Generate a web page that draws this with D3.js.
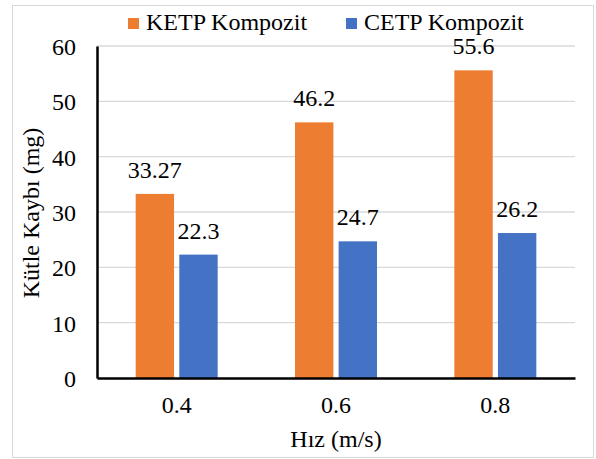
<!DOCTYPE html>
<html>
<head>
<meta charset="utf-8">
<script src="https://cdn.jsdelivr.net/npm/d3@7"></script>
</head>
<body style="margin:0">
<svg id="chart" width="596" height="459" font-family="Liberation Serif"></svg>
<script>
// Mass loss by sliding speed for the two composites
const categories = ["0.4", "0.6", "0.8"];
const seriesNames = ["KETP Kompozit", "CETP Kompozit"];
const ketpValues = [33.27, 46.2, 55.6];
const cetpValues = [22.3, 24.7, 26.2];
const yTicks = [0, 10, 20, 30, 40, 50, 60];
const colors = ["#ed7d31", "#4472c4"];

const FS = 24;
const svg = d3.select("#chart");

// outer frame
svg.append("rect")
  .attr("x", 12.5).attr("y", 5.5)
  .attr("width", 581).attr("height", 452)
  .attr("fill", "#fff").attr("stroke", "#d9d9d9").attr("stroke-width", 1);

const plot = { left: 97, right: 575, top: 46, bottom: 378 };

const x = d3.scaleBand().domain(categories).range([plot.left, plot.right]);
const xInner = d3.scaleBand().domain(seriesNames)
  .range([x.bandwidth() / 2 - 41, x.bandwidth() / 2 + 41]).paddingInner(0.12);
const y = d3.scaleLinear().domain([0, 60]).range([plot.bottom, plot.top]);

// gridlines
svg.append("g").selectAll("line").data(yTicks.filter(t => t > 0)).join("line")
  .attr("x1", plot.left).attr("x2", plot.right)
  .attr("y1", d => y(d)).attr("y2", d => y(d))
  .attr("stroke", "#d9d9d9").attr("stroke-width", 1.3);

// bars
const rows = categories.map((c, i) => ({ cat: c, vals: [ketpValues[i], cetpValues[i]] }));
const groups = svg.append("g").selectAll("g").data(rows).join("g")
  .attr("transform", d => `translate(${x(d.cat)},0)`);

groups.selectAll("rect").data(d => d.vals.map((v, j) => ({ name: seriesNames[j], v, j })))
  .join("rect")
  .attr("x", d => xInner(d.name))
  .attr("width", xInner.bandwidth())
  .attr("y", d => y(d.v))
  .attr("height", d => y(0) - y(d.v))
  .attr("fill", d => colors[d.j]);

// value labels
groups.selectAll("text.val").data(d => d.vals.map((v, j) => ({ name: seriesNames[j], v, j })))
  .join("text").attr("class", "val")
  .attr("x", d => xInner(d.name) + xInner.bandwidth() / 2)
  .attr("y", d => y(d.v) - 16)
  .attr("text-anchor", "middle")
  .attr("font-size", FS).attr("fill", "#000")
  .text(d => String(d.v));

// axes
const yAxis = d3.axisLeft(y).tickValues(yTicks).tickSize(0).tickPadding(21);
const gy = svg.append("g").attr("transform", `translate(${plot.left},0)`).call(yAxis)
  .attr("font-family", null).attr("font-size", FS);
gy.select(".domain").attr("stroke", "#000").attr("stroke-width", 2.5);
gy.selectAll("text").attr("fill", "#000").attr("dy", "0.35em");

const xAxis = d3.axisBottom(x).tickSize(0).tickPadding(18);
const gx = svg.append("g").attr("transform", `translate(0,${plot.bottom})`).call(xAxis)
  .attr("font-family", null).attr("font-size", FS);
gx.select(".domain").attr("stroke", "#000").attr("stroke-width", 2.5);
gx.selectAll("text").attr("fill", "#000");

// axis titles
svg.append("text")
  .attr("x", (plot.left + plot.right) / 2).attr("y", 447)
  .attr("text-anchor", "middle").attr("font-size", FS)
  .text("Hız (m/s)");

svg.append("text")
  .attr("transform", `translate(39,213) rotate(-90)`)
  .attr("text-anchor", "middle").attr("font-size", FS)
  .text("Kütle Kaybı (mg)");

// legend
const legendX = [128, 346];
const legend = svg.append("g").selectAll("g").data(seriesNames).join("g")
  .attr("transform", (d, i) => `translate(${legendX[i]},18)`);
legend.append("rect").attr("width", 11).attr("height", 11).attr("fill", (d, i) => colors[i]);
legend.append("text").attr("x", 18).attr("y", 12).attr("font-size", FS)
  .text(d => d);
</script>
</body>
</html>
